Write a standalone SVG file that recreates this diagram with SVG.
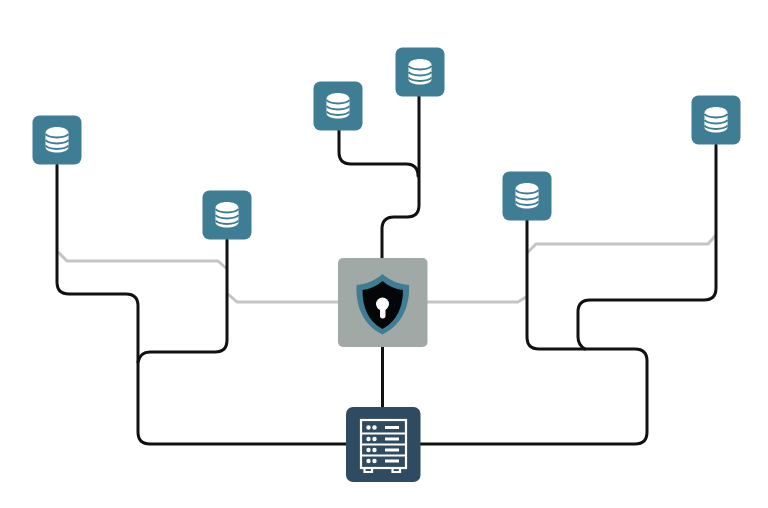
<svg xmlns="http://www.w3.org/2000/svg" width="768" height="508" viewBox="0 0 768 508">
<style>
.line{fill:none;stroke:#111;stroke-width:3;stroke-linecap:round;stroke-linejoin:round}
.alt{fill:none;stroke:#c4c4c4;stroke-width:3;stroke-linejoin:round}
.tile{fill:#3f7d95}
.sep{fill:none;stroke:#3f7d95;stroke-width:2}
.srv{fill:none;stroke:#fff;stroke-width:2.200}
</style>
<defs>
<g id="db">
<rect class="tile" x="-24.500" y="-24.500" width="49" height="49" rx="7"/>
<path d="M-11.500-7C-11.500-11 -5.500-13 0-13S11.500-11 11.500-7V7C11.500 11 5.500 12.500 0 12.500S-11.500 11-11.500 7Z" fill="#fff"/>
<path class="sep" d="M-11.500-6C-8-1.500 8-1.500 11.500-6M-11.500 0C-8 4.500 8 4.500 11.500 0M-11.500 5.500C-8 10 8 10 11.500 5.500"/>
</g>
</defs>
<rect width="768" height="508" fill="#fff"/>
<g id="connectors">
<path class="alt" d="M58 252L67 261H218L227 269"/>
<path class="alt" d="M228 294L237 302H338"/>
<path class="alt" d="M427 302H518L526 297"/>
<path class="alt" d="M527 253L536 244H708L716 235"/>
<path class="line" d="M57 165V282Q57 294 69 294H126Q138 294 138 306V432Q138 444 150 444H346"/>
<path class="line" d="M227 240V340Q227 352 215 352H150Q140 352 138 362"/>
<path class="line" d="M339 130V152Q339 164 351 164H406Q418 164 418 176"/>
<path class="line" d="M419 96V205Q419 217 407 217H394Q382 217 382 229V258"/>
<path class="line" d="M382.500 347V407"/>
<path class="line" d="M527 220V337Q527 349 539 349H635Q647 349 647 361V432Q647 444 635 444H420"/>
<path class="line" d="M716 145V288Q716 300 704 300H590Q578 300 578 312V337Q578 345 585 349"/>
</g>
<g id="db-1"><use href="#db" x="57" y="140"/></g>
<g id="db-2"><use href="#db" x="227" y="215"/></g>
<g id="db-3"><use href="#db" x="338" y="106"/></g>
<g id="db-4"><use href="#db" x="420" y="72"/></g>
<g id="db-5"><use href="#db" x="527" y="196"/></g>
<g id="db-6"><use href="#db" x="716" y="120"/></g>
<g id="security">
<rect x="338" y="258" width="89.500" height="89" rx="5" fill="#a1a9a7"/>
<path d="M382.500 274C376 280 367 284 356.500 285C355.500 306 363 325 382.500 334.500C402 325 410 306 409 285C398 284 389 280 382.500 274Z" fill="#3f7d95"/>
<path d="M382.500 281C377 286 370 289 362.500 290C362.500 307 368 321 382.500 329C397 321 403 307 403 290C395 289 388 286 382.500 281Z" fill="#050608"/>
<circle cx="382.500" cy="304" r="6.500" fill="#fff"/>
<rect x="380" y="304" width="5.500" height="14.500" rx="2.700" fill="#fff"/>
</g>
<g id="server">
<rect x="346" y="407" width="74.500" height="75" rx="7" fill="#2f4b61"/>
<rect class="srv" x="361" y="420" width="45" height="48"/>
<g fill="#fff">
<circle cx="368.500" cy="427.500" r="2.200"/><circle cx="374.500" cy="427.500" r="2.200"/><rect x="385" y="426" width="14" height="3"/>
<circle cx="368.500" cy="439" r="2.200"/><circle cx="374.500" cy="439" r="2.200"/><rect x="385" y="437.500" width="14" height="3"/>
<circle cx="368.500" cy="450" r="2.200"/><circle cx="374.500" cy="450" r="2.200"/><rect x="385" y="448.500" width="14" height="3"/>
<circle cx="368.500" cy="461" r="2.200"/><circle cx="374.500" cy="461" r="2.200"/><rect x="385" y="459.500" width="14" height="3"/>
</g>
<path class="srv" d="M362 433.500H405M362 444.500H405M362 455.500H405M364.500 468V472H372V468M392.500 468V472H400V468"/>
</g>
</svg>
